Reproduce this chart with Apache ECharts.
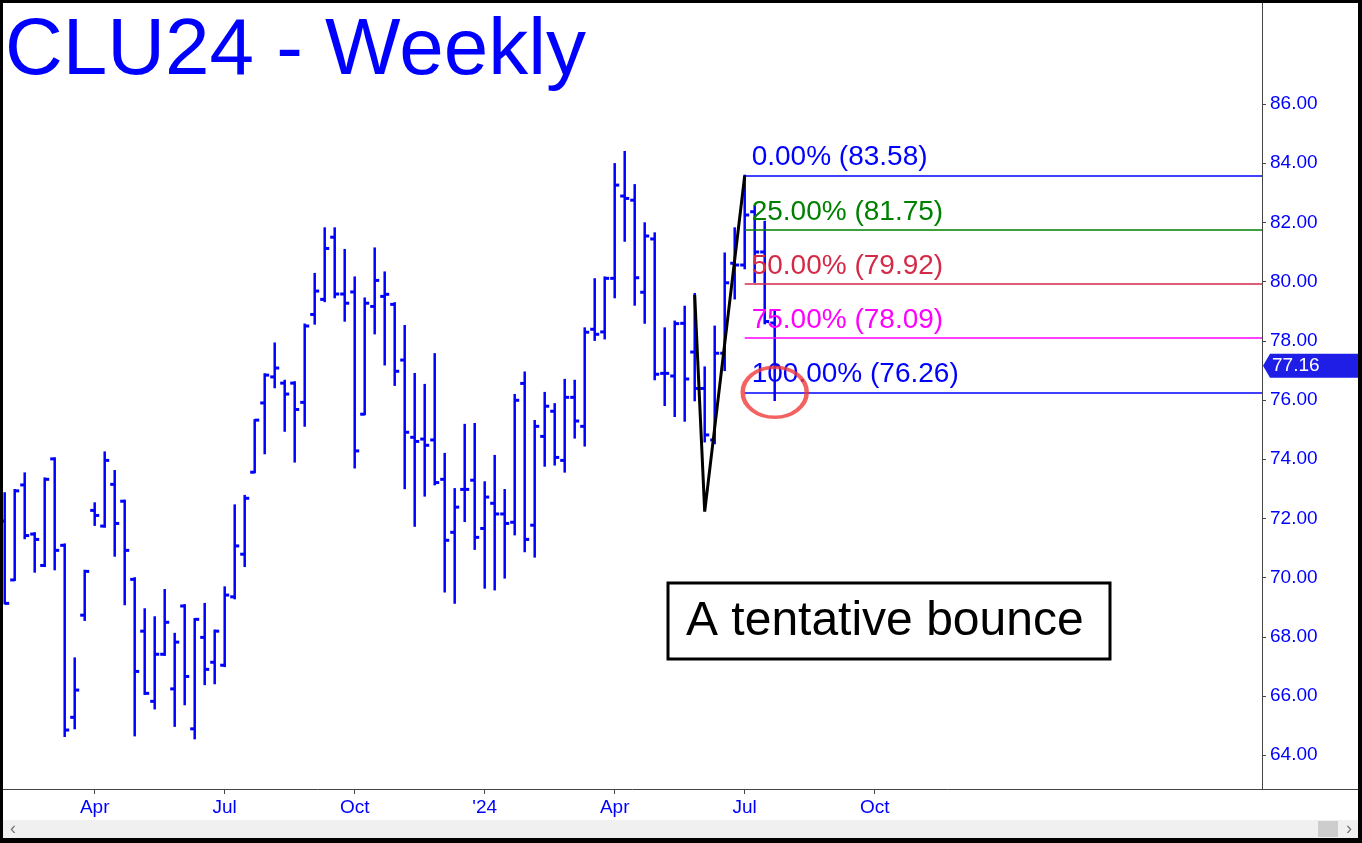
<!DOCTYPE html>
<html>
<head>
<meta charset="utf-8">
<script src="https://cdn.jsdelivr.net/npm/echarts@6/dist/echarts.min.js"></script>
<style>
html,body{margin:0;padding:0;background:#fff;}
#c{width:1362px;height:843px;}
</style>
</head>
<body>
<div id="c"></div>
<script>
// Weekly bars (Monday of each week)
const weeks = ['2023-01-30','2023-02-06','2023-02-13','2023-02-20','2023-02-27','2023-03-06','2023-03-13','2023-03-20','2023-03-27','2023-04-03',
'2023-04-10','2023-04-17','2023-04-24','2023-05-01','2023-05-08','2023-05-15','2023-05-22','2023-05-29','2023-06-05','2023-06-12',
'2023-06-19','2023-06-26','2023-07-03','2023-07-10','2023-07-17','2023-07-24','2023-07-31','2023-08-07','2023-08-14','2023-08-21',
'2023-08-28','2023-09-04','2023-09-11','2023-09-18','2023-09-25','2023-10-02','2023-10-09','2023-10-16','2023-10-23','2023-10-30',
'2023-11-06','2023-11-13','2023-11-20','2023-11-27','2023-12-04','2023-12-11','2023-12-18','2023-12-25','2024-01-01','2024-01-08',
'2024-01-15','2024-01-22','2024-01-29','2024-02-05','2024-02-12','2024-02-19','2024-02-26','2024-03-04','2024-03-11','2024-03-18',
'2024-03-25','2024-04-01','2024-04-08','2024-04-15','2024-04-22','2024-04-29','2024-05-06','2024-05-13','2024-05-20','2024-05-27',
'2024-06-03','2024-06-10','2024-06-17','2024-06-24','2024-07-01','2024-07-08','2024-07-15','2024-07-22'];

const opens  = [71.91,69.92,73.13,71.47,70.41,74.01,71.09,65.28,68.73,72.27,71.74,73.15,72.58,69.94,68.19,65.82,67.41,66.24,69.04,64.89,
67.98,67.14,67.04,69.35,70.79,73.56,75.90,76.78,76.57,76.57,75.92,78.89,79.40,81.50,79.58,79.65,75.52,79.16,79.50,79.23,
77.35,74.74,74.68,74.65,73.32,71.53,72.98,73.29,71.66,72.51,72.15,71.87,76.56,71.77,74.77,75.62,73.96,76.09,75.11,78.39,
78.30,80.11,82.89,82.75,79.64,81.44,76.90,76.81,78.59,77.62,76.39,74.65,77.58,80.62,80.56,82.36,81.00,78.60];
const highs  = [72.85,72.96,73.52,71.50,73.35,74.03,71.12,67.27,70.23,72.51,74.23,73.60,72.60,69.98,68.93,68.66,69.58,68.10,69.07,68.60,
69.11,68.21,69.67,72.44,72.76,75.32,76.87,77.91,76.65,76.60,78.55,80.26,81.80,81.80,81.07,80.14,79.43,81.12,80.31,79.27,
78.50,76.88,76.51,77.55,74.18,72.99,75.16,75.19,73.22,74.11,72.96,76.17,76.93,75.29,76.24,75.86,76.68,76.65,78.42,80.08,
80.14,83.97,84.38,83.26,81.97,81.63,78.42,78.65,79.15,79.58,77.10,78.48,80.95,81.80,83.58,82.53,82.02,79.00];
const lows   = [69.13,69.92,71.33,70.20,70.39,70.28,64.65,64.91,68.57,71.78,71.72,70.74,69.10,64.67,66.07,65.58,67.39,64.99,65.72,64.57,
66.40,66.43,67.01,69.30,70.39,73.56,74.20,76.43,74.96,73.92,75.13,78.58,79.34,79.47,78.68,73.72,75.52,78.25,77.20,76.51,
73.02,71.75,72.77,73.15,69.53,69.15,71.91,70.97,69.66,69.60,70.00,71.46,70.89,70.71,73.78,73.82,73.58,74.73,74.46,78.03,
78.08,79.47,81.38,79.22,78.61,76.70,75.83,75.46,75.30,75.99,74.60,74.54,77.01,79.43,80.45,79.99,78.59,76.00];
const closes = [69.13,72.93,71.42,71.29,73.32,70.92,64.85,66.20,70.21,72.10,73.96,71.83,70.92,66.83,66.09,67.41,68.49,67.82,66.66,68.59,
66.90,68.19,69.41,71.07,72.68,75.32,76.84,77.08,76.20,75.68,78.50,79.68,81.12,79.58,79.27,74.28,79.27,80.04,79.57,76.97,
74.91,74.60,74.47,73.21,71.26,72.38,72.98,71.36,72.72,72.15,71.83,75.99,71.29,75.11,75.79,74.06,76.09,75.29,78.29,78.22,
80.11,83.26,82.81,80.13,81.54,76.87,76.90,78.58,76.71,76.39,74.82,77.58,79.96,80.56,82.25,81.00,78.65,77.16];

// X tick labels (bar index of first week of each quarter)
const tickIndex  = [9, 22, 35, 48, 61, 74, 87];
const tickLabels = ['Apr', 'Jul', 'Oct', "'24", 'Apr', 'Jul', 'Oct'];
const priceTicks = [64, 66, 68, 70, 72, 74, 76, 78, 80, 82, 84, 86];

// Fibonacci retracement levels
const fibPct    = ['0.00%', '25.00%', '50.00%', '75.00%', '100.00%'];
const fibLevels = [83.58, 81.75, 79.92, 78.09, 76.26];
const fibColors = ['#0000ff', '#008000', '#d42a48', '#ff00ff', '#0000ff'];
const fibStart  = 74;

// Hand-drawn swing (index, price)
const swingIdx   = [69, 70, 74];
const swingPrice = [79.55, 72.23, 83.58];

const circleIdx = 77, circlePrice = 76.26;
const lastPrice = 77.16;
const title = 'CLU24 - Weekly';
const note = 'A tentative bounce';

const X_MIN = -0.17, X_MAX = 125.73;
const Y_MIN = 62.858, Y_MAX = 89.412;
const FONT = '"Liberation Sans", Arial, sans-serif';
const BLUE = '#0000ff';

const ohlc = weeks.map((w, i) => [i, opens[i], highs[i], lows[i], closes[i], w]);

function renderBar(params, api) {
  const i = api.value(0);
  const x = api.coord([i, api.value(2)])[0];
  const oy = api.coord([i, api.value(1)])[1];
  const hy = api.coord([i, api.value(2)])[1];
  const ly = api.coord([i, api.value(3)])[1];
  const cy = api.coord([i, api.value(4)])[1];
  const st = {stroke: BLUE, lineWidth: 2.5};
  const tk = {stroke: BLUE, lineWidth: 3};
  return {type: 'group', children: [
    {type: 'line', shape: {x1: x, y1: hy - 1, x2: x, y2: ly + 1}, style: st},
    {type: 'line', shape: {x1: x - 4.5, y1: oy, x2: x, y2: oy}, style: tk},
    {type: 'line', shape: {x1: x, y1: cy, x2: x + 4.5, y2: cy}, style: tk}
  ]};
}

const fibMarks = fibLevels.map((v, k) => [
  {coord: [fibStart, v],
   lineStyle: {color: fibColors[k], width: 1.6, type: 'solid'},
   label: {show: true, position: 'insideStartTop', distance: [7, 4],
           formatter: fibPct[k] + ' (' + v.toFixed(2) + ')',
           color: fibColors[k], fontSize: 28, fontFamily: FONT}},
  {coord: [X_MAX, v]}
]);

const chart = echarts.init(document.getElementById('c'), null, {renderer: 'canvas'});
chart.setOption({
  animation: false,
  backgroundColor: '#ffffff',
  title: {text: title, left: 5, top: 12, padding: 0,
          textStyle: {color: BLUE, fontSize: 80, fontWeight: 'normal', fontFamily: FONT}},
  grid: {left: 3, right: 100, top: 3, bottom: 54},
  xAxis: {
    type: 'value', min: X_MIN, max: X_MAX,
    splitLine: {show: false},
    axisLine: {show: true, onZero: false, lineStyle: {color: '#444', width: 1}},
    axisTick: {show: true, customValues: tickIndex, length: 5, lineStyle: {color: '#444'}},
    axisLabel: {customValues: tickIndex, color: BLUE, fontSize: 19, fontFamily: FONT, margin: 9,
                formatter: v => tickLabels[tickIndex.indexOf(Math.round(v))] || ''}
  },
  yAxis: {
    type: 'value', position: 'right', min: Y_MIN, max: Y_MAX,
    splitLine: {show: false},
    axisLine: {show: true, onZero: false, lineStyle: {color: '#444', width: 1}},
    axisTick: {show: true, customValues: priceTicks, length: 4, lineStyle: {color: '#444'}},
    axisLabel: {customValues: priceTicks, color: BLUE, fontSize: 19, fontFamily: FONT, margin: 8,
                formatter: v => Number(v).toFixed(2)}
  },
  series: [
    {type: 'custom', name: 'CLU24', renderItem: renderBar, data: ohlc,
     encode: {x: 0, y: [1, 2, 3, 4]}, clip: true, z: 2},
    {type: 'line', name: 'swing', data: swingIdx.map((x, k) => [x, swingPrice[k]]),
     symbol: 'none', lineStyle: {color: '#000', width: 3}, z: 4,
     markLine: {symbol: ['none', 'none'], silent: true, data: fibMarks, z: 3}},
    {type: 'scatter', name: 'circle', data: [[circleIdx, circlePrice]],
     symbol: 'circle', symbolSize: [64, 50],
     itemStyle: {color: 'rgba(0,0,0,0)', borderColor: '#f03a3a', borderWidth: 4}, z: 5}
  ]
});

const py = chart.convertToPixel({gridIndex: 0}, [0, lastPrice])[1];
chart.setOption({
  graphic: [
    // x-axis line continues under the price scale
    {type: 'line', shape: {x1: 1262, y1: 789.5, x2: 1362, y2: 789.5}, style: {stroke: '#444', lineWidth: 1}, z: 10},
    // last price tag
    {type: 'polygon', shape: {points: [[1263, py], [1270, py - 12], [1358, py - 12], [1358, py + 12], [1270, py + 12]]},
     style: {fill: '#1e1ee6'}, z: 10},
    {type: 'text', x: 1272, y: py, style: {text: lastPrice.toFixed(2), fill: '#fff', font: '19px ' + FONT, textVerticalAlign: 'middle'}, z: 11},
    // annotation box
    {type: 'rect', shape: {x: 668, y: 583, width: 442, height: 76}, style: {fill: '#fff', stroke: '#000', lineWidth: 3}, z: 10},
    {type: 'text', x: 686, y: 622, style: {text: note, fill: '#000', font: '48px ' + FONT, textVerticalAlign: 'middle'}, z: 11},
    // scrollbar
    {type: 'rect', shape: {x: 0, y: 820, width: 1362, height: 18}, style: {fill: '#f0f0f0'}, z: 10},
    {type: 'rect', shape: {x: 1318, y: 821, width: 20, height: 16}, style: {fill: '#cdcdcd'}, z: 11},
    {type: 'text', x: 10, y: 829, style: {text: '\u2039', fill: '#777', font: '18px ' + FONT, textVerticalAlign: 'middle'}, z: 11},
    {type: 'text', x: 1346, y: 829, style: {text: '\u203a', fill: '#777', font: '18px ' + FONT, textVerticalAlign: 'middle'}, z: 11},
    // frame
    {type: 'rect', shape: {x: 0, y: 0, width: 1362, height: 3}, style: {fill: '#000'}, z: 20},
    {type: 'rect', shape: {x: 0, y: 0, width: 3, height: 843}, style: {fill: '#000'}, z: 20},
    {type: 'rect', shape: {x: 1358, y: 0, width: 4, height: 843}, style: {fill: '#000'}, z: 20},
    {type: 'rect', shape: {x: 0, y: 838, width: 1362, height: 5}, style: {fill: '#000'}, z: 20}
  ]
});
</script>
</body>
</html>
